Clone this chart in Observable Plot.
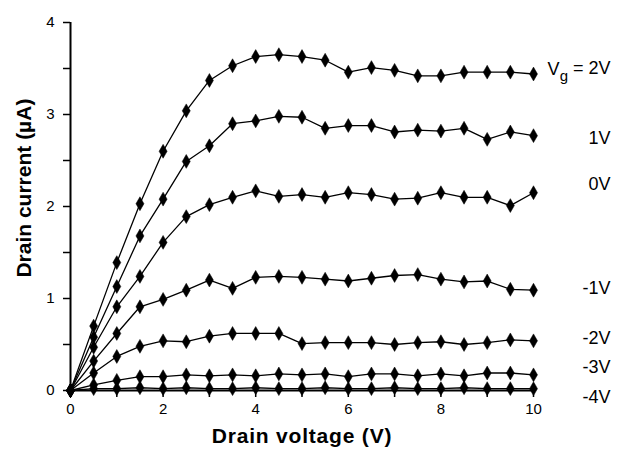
<!DOCTYPE html>
<html><head><meta charset="utf-8">
<script src="https://cdn.jsdelivr.net/npm/d3@7"></script>
<script src="https://cdn.jsdelivr.net/npm/@observablehq/plot@0.6"></script>
<style>
body{margin:0;background:#fff;}
#chart svg{font-family:"Liberation Sans",Arial,sans-serif;}
</style></head>
<body><div id="chart"></div>
<script>
const voltage = [0,0.5,1,1.5,2,2.5,3,3.5,4,4.5,5,5.5,6,6.5,7,7.5,8,8.5,9,9.5,10];
const vg2  = [0,0.70,1.39,2.03,2.60,3.04,3.37,3.53,3.63,3.65,3.63,3.59,3.46,3.51,3.48,3.42,3.42,3.46,3.46,3.46,3.44];
const vg1  = [0,0.58,1.13,1.68,2.08,2.49,2.66,2.90,2.93,2.98,2.97,2.85,2.88,2.88,2.81,2.83,2.82,2.85,2.73,2.81,2.77];
const vg0  = [0,0.47,0.91,1.24,1.61,1.89,2.02,2.10,2.17,2.11,2.13,2.10,2.15,2.13,2.08,2.09,2.15,2.10,2.10,2.01,2.15];
const vgm1 = [0,0.32,0.62,0.91,0.99,1.09,1.20,1.11,1.23,1.24,1.23,1.21,1.19,1.22,1.25,1.26,1.21,1.18,1.19,1.10,1.09];
const vgm2 = [0,0.19,0.37,0.48,0.54,0.53,0.59,0.62,0.62,0.62,0.51,0.52,0.52,0.52,0.50,0.52,0.53,0.50,0.52,0.55,0.54];
const vgm3 = [0,0.06,0.11,0.15,0.15,0.17,0.16,0.17,0.16,0.18,0.17,0.18,0.15,0.18,0.18,0.16,0.18,0.16,0.19,0.19,0.17];
const vgm4 = [0,0.02,0.02,0.03,0.02,0.03,0.02,0.02,0.03,0.02,0.02,0.03,0.02,0.02,0.03,0.02,0.02,0.03,0.02,0.02,0.02];
const seriesNames = ["2V","1V","0V","-1V","-2V","-3V","-4V"];
const seriesValues = [vg2,vg1,vg0,vgm1,vgm2,vgm3,vgm4];
const labelText = ["Vg = 2V","1V","0V","-1V","-2V","-3V","-4V"];
const labelY = [3.49,2.74,2.24,1.11,0.57,0.25,-0.07];
const xTicks = [0,1,2,3,4,5,6,7,8,9,10];
const yTicks = [0,0.5,1,1.5,2,2.5,3,3.5,4];

const data = [];
seriesNames.forEach((s,i)=>voltage.forEach((v,j)=>data.push({series:s,v,i:seriesValues[i][j]})));
const labels = labelText.map((t,i)=>({t,y:labelY[i]}));

const plot = Plot.plot({
  width:621, height:452,
  marginLeft:70, marginRight:88, marginTop:22, marginBottom:62,
  x:{domain:[0,10]},
  y:{domain:[0,4]},
  style:{fontSize:"15px",color:"#000",background:"#fff"},
  marks:[
    Plot.axisX({ticks:xTicks, tickFormat:d=>d%2===0?d:"", tickSize:7, tickPadding:6, fontSize:15, label:null, strokeWidth:1.5}),
    Plot.axisY({ticks:yTicks, tickFormat:d=>Number.isInteger(d)?d:"", tickSize:7, tickPadding:9, fontSize:15, label:null, strokeWidth:1.5}),
    Plot.ruleX([0],{strokeWidth:2}),
    Plot.ruleY([0],{strokeWidth:2}),
    Plot.line(data,{x:"v",y:"i",z:"series",stroke:"#000",strokeWidth:1.3}),
    Plot.dot(data,{x:"v",y:"i",symbol:"diamond",r:4.2,fill:"#000",stroke:"#000",strokeWidth:0.5}),
    Plot.text(labels,{x:()=>10,y:"y",text:"t",textAnchor:"end",dx:77,fontSize:18,fill:"#000"}),
    Plot.text(["Drain voltage (V)"],{x:()=>5,y:()=>0,text:d=>d,dy:46,fontSize:21,fontWeight:"bold",fill:"#000"}),
    Plot.text(["Drain current (µA)"],{x:()=>0,y:()=>2.2,text:d=>d,dx:-46,rotate:-90,fontSize:21,fontWeight:"bold",fill:"#000"})
  ]
});
document.getElementById("chart").appendChild(plot);
d3.select(plot).selectAll("text").filter(function(){return this.textContent==="Drain voltage (V)";}).attr("letter-spacing","0.8");
// subscript g in the Vg label
d3.select(plot).selectAll("text").filter(function(){return this.textContent==="Vg = 2V";}).each(function(){
  const t=d3.select(this); t.text("");
  t.append("tspan").text("V");
  t.append("tspan").attr("dy","0.4em").attr("font-size","15").text("g");
  t.append("tspan").attr("dy","-0.4em").text(" = 2V");
});
</script></body></html>
